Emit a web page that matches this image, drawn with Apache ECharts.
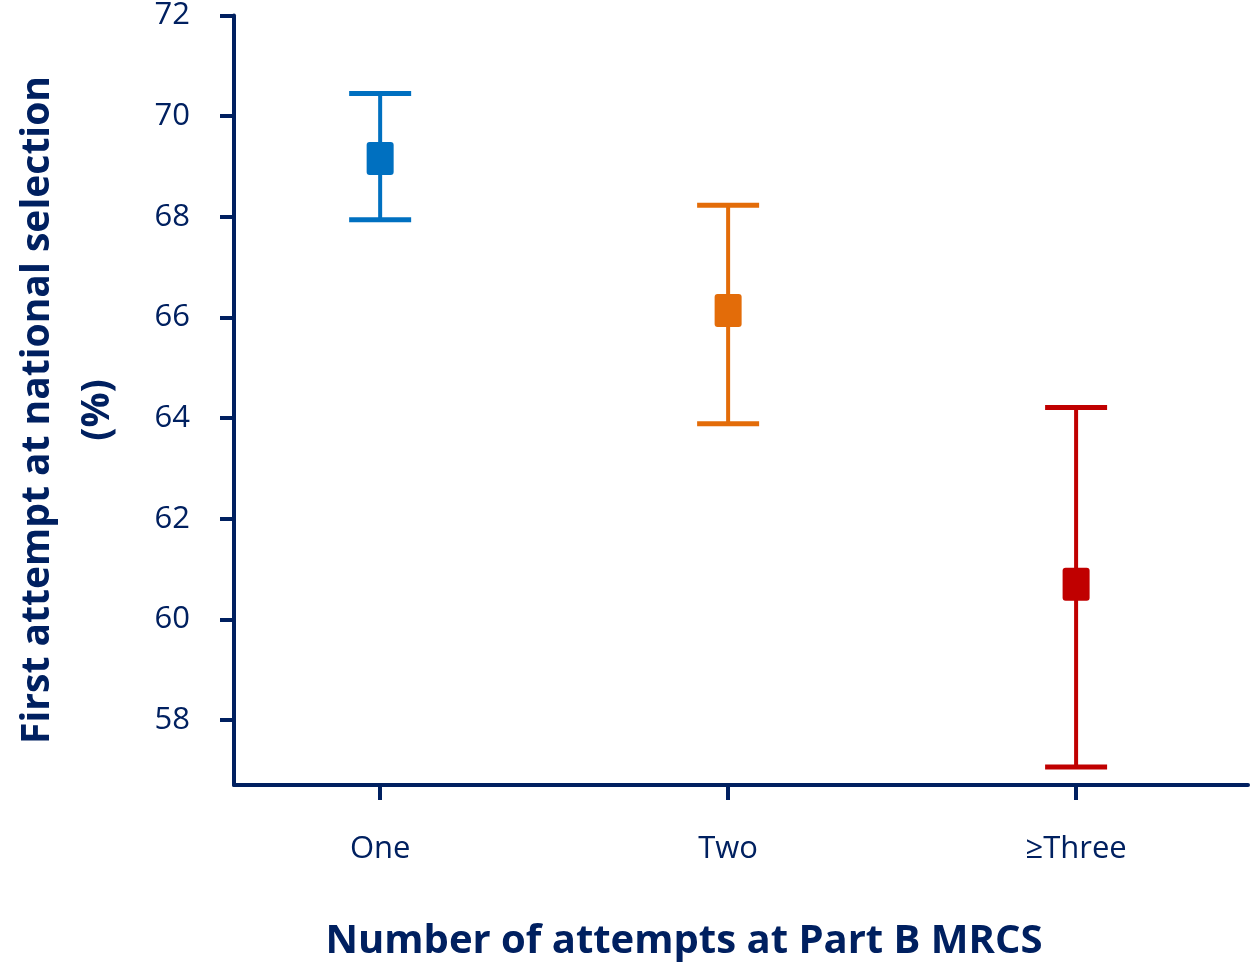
<!DOCTYPE html>
<html>
<head>
<meta charset="utf-8">
<script src="https://cdn.jsdelivr.net/npm/echarts@6/dist/echarts.min.js"></script>
<style>
html,body{margin:0;padding:0;background:#fff;}
#c{width:1256px;height:970px;}
</style>
</head>
<body>
<div id="c"></div>
<script>
var categories = ['One', 'Two', '\u2265Three'];
var xPositions = [1, 2, 3];
var means = [69.16, 66.14, 60.70];
var lower = [67.94, 63.89, 57.07];
var upper = [70.45, 68.23, 64.21];
var colors = ['#0070C0', '#E36C09', '#C00000'];
var yTicks = [58, 60, 62, 64, 66, 68, 70, 72];
var yTitle = 'First attempt at national selection\n(%)';
var xTitle = 'Number of attempts at Part B MRCS';

var NAVY = '#002060';
var FONT = '"Open Sans", "Noto Sans", sans-serif';

var data = categories.map(function (c, i) {
  return [xPositions[i], means[i], lower[i], upper[i], i];
});

var chart = echarts.init(document.getElementById('c'), null, {renderer: 'canvas'});
chart.setOption({
  animation: false,
  backgroundColor: '#ffffff',
  grid: {left: 234, right: 8, top: 15, bottom: 185, containLabel: false},
  xAxis: {
    type: 'value',
    min: 0.58,
    max: 3.494,
    splitLine: {show: false},
    axisLine: {show: true, lineStyle: {color: NAVY, width: 4}},
    axisTick: {show: true, length: 15, lineStyle: {color: NAVY, width: 4}, customValues: xPositions},
    axisLabel: {
      color: NAVY, fontFamily: FONT, fontSize: 31, margin: 49,
      customValues: xPositions,
      formatter: function (v) { var k = xPositions.indexOf(v); return k >= 0 ? categories[k] : ''; }
    }
  },
  yAxis: {
    type: 'value',
    min: 56.71,
    max: 72,
    splitLine: {show: false},
    axisLine: {show: true, lineStyle: {color: NAVY, width: 4}},
    axisTick: {show: true, length: 14, lineStyle: {color: NAVY, width: 4}, customValues: yTicks},
    axisLabel: {color: NAVY, fontFamily: FONT, fontSize: 31, margin: 44, customValues: yTicks}
  },
  graphic: [
    {
      type: 'text', x: 68, y: 410, rotation: Math.PI / 2,
      style: {text: yTitle, fill: NAVY, font: 'bold 39px ' + FONT, align: 'center', verticalAlign: 'middle', lineHeight: 60}
    },
    {
      type: 'text', x: 684, y: 942,
      style: {text: xTitle, fill: NAVY, font: 'bold 40px ' + FONT, align: 'center', verticalAlign: 'middle'}
    }
  ],
  series: [{
    type: 'custom',
    clip: false,
    data: data,
    encode: {x: 0, y: [1, 2, 3]},
    renderItem: function (params, api) {
      var x = api.value(0);
      var pm = api.coord([x, api.value(1)]);
      var pl = api.coord([x, api.value(2)]);
      var ph = api.coord([x, api.value(3)]);
      var col = colors[api.value(4)];
      var capW = 62, boxW = 27, boxH = 33;
      return {
        type: 'group',
        children: [
          {type: 'line', shape: {x1: pm[0], y1: pl[1], x2: pm[0], y2: ph[1]}, style: {stroke: col, lineWidth: 4}},
          {type: 'line', shape: {x1: pm[0] - capW / 2, y1: ph[1], x2: pm[0] + capW / 2, y2: ph[1]}, style: {stroke: col, lineWidth: 5}},
          {type: 'line', shape: {x1: pm[0] - capW / 2, y1: pl[1], x2: pm[0] + capW / 2, y2: pl[1]}, style: {stroke: col, lineWidth: 5}},
          {type: 'rect', shape: {x: pm[0] - boxW / 2, y: pm[1] - boxH / 2, width: boxW, height: boxH, r: 3}, style: {fill: col}}
        ]
      };
    }
  }]
});
</script>
</body>
</html>
